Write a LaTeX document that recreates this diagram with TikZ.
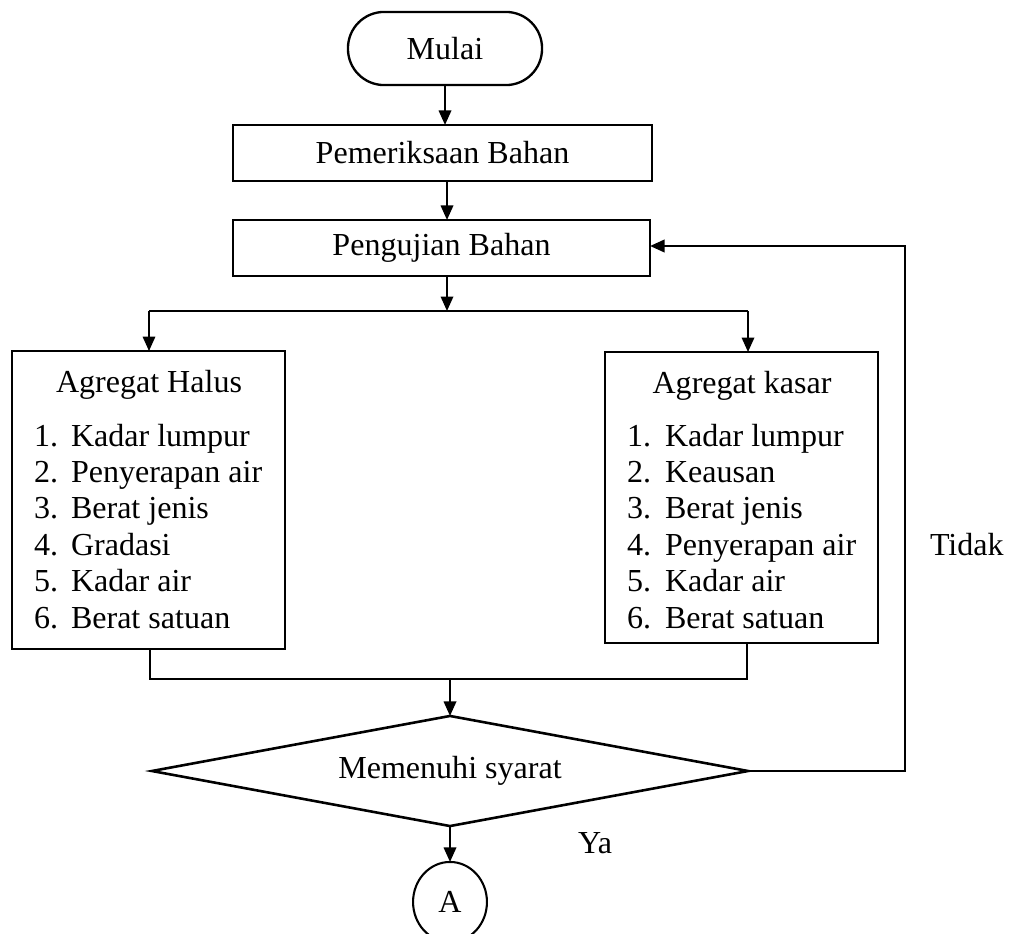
\documentclass[tikz,border=0pt]{standalone}
\usepackage{fontspec}
\setmainfont{Liberation Serif}
\usetikzlibrary{shapes.geometric,arrows.meta}
\begin{document}
\begin{tikzpicture}[x=0.387pt,y=-0.387pt,
  font=\fontsize{12.4}{14}\selectfont,
  every node/.style={inner sep=0pt,outer sep=0pt},
  blk/.style={draw,line width=0.9pt,rectangle},
  arr/.style={line width=0.8pt,-{Triangle[length=5.6pt,width=4.8pt]}},
  thin/.style={line width=0.45pt},
  fbline/.style={line width=0.9pt,-{Triangle[length=5.6pt,width=4.8pt]}},
  txt/.style={anchor=base west},
  ttl/.style={anchor=base}]
\useasboundingbox (0,0) rectangle (1015,934);
% nodes
\node[blk,rounded corners=14pt,minimum width=75.1pt,minimum height=28.3pt] (mulai) at (445,48.5) {Mulai};
\node[blk,minimum width=162.2pt,minimum height=21.7pt] (pem) at (442.5,153) {Pemeriksaan Bahan};
\node[blk,minimum width=161.4pt,minimum height=21.7pt] (peng) at (441.5,248) {Pengujian Bahan};
\node[blk,minimum width=105.7pt,minimum height=115.3pt] (halus) at (148.5,500) {};
\node[blk,minimum width=105.7pt,minimum height=112.6pt] (kasar) at (741.5,497.5) {};
\node[draw,line width=1pt,diamond,aspect=5.4,minimum width=230.7pt,minimum height=42.6pt] (dia) at (450,771) {Memenuhi syarat};
\node[draw,line width=0.8pt,ellipse,minimum width=28.6pt,minimum height=31pt] (circ) at (450,902) {A};
% left box text
\node[ttl] (ht) at (149,392) {Agregat Halus};
\node[txt] (hn1) at (34,446) {1.};   \node[txt] (h1) at (71,446) {Kadar lumpur};
\node[txt] (hn2) at (34,482.4) {2.}; \node[txt] (h2) at (71,482.4) {Penyerapan air};
\node[txt] (hn3) at (34,518.8) {3.}; \node[txt] (h3) at (71,518.8) {Berat jenis};
\node[txt] (hn4) at (34,555.2) {4.}; \node[txt] (h4) at (71,555.2) {Gradasi};
\node[txt] (hn5) at (34,591.6) {5.}; \node[txt] (h5) at (71,591.6) {Kadar air};
\node[txt] (hn6) at (34,628) {6.};   \node[txt] (h6) at (71,628) {Berat satuan};
% right box text
\node[ttl] (kt) at (742,393) {Agregat kasar};
\node[txt] (kn1) at (627,446) {1.};   \node[txt] (k1) at (665,446) {Kadar lumpur};
\node[txt] (kn2) at (627,482.4) {2.}; \node[txt] (k2) at (665,482.4) {Keausan};
\node[txt] (kn3) at (627,518.8) {3.}; \node[txt] (k3) at (665,518.8) {Berat jenis};
\node[txt] (kn4) at (627,555.2) {4.}; \node[txt] (k4) at (665,555.2) {Penyerapan air};
\node[txt] (kn5) at (627,591.6) {5.}; \node[txt] (k5) at (665,591.6) {Kadar air};
\node[txt] (kn6) at (627,628) {6.};   \node[txt] (k6) at (665,628) {Berat satuan};
% labels
\node[txt] (tidak) at (930,555) {Tidak};
\node[txt] (ya) at (578,853) {Ya};
% coordinates
\coordinate (sp) at (447,311);
\coordinate (spl) at (149,311);
\coordinate (spr) at (748,311);
\coordinate (mg) at (450,679);
\coordinate (mgl) at (150,679);
\coordinate (mgr) at (747,679);
\coordinate (fb) at (905,246);
% connectors
\draw[arr] (mulai.south) -- (mulai.south |- pem.north);
\draw[arr] (pem.south -| sp) -- (peng.north -| sp);
\draw[arr] (peng.south -| sp) -- (sp);
\draw[thin] (spl) -- (spr);
\draw[arr] (spl) -- (spl |- halus.north);
\draw[arr] (spr) -- (spr |- kasar.north);
\draw[thin] (halus.south -| mgl) -- (mgl) -- (mgr) -- (kasar.south -| mgr);
\draw[arr] (mg) -- (dia.north);
\draw[arr] (dia.south) -- (circ.north);
\draw[fbline] (dia.east) -| (fb) -- (peng.east |- fb);
\end{tikzpicture}
\end{document}
